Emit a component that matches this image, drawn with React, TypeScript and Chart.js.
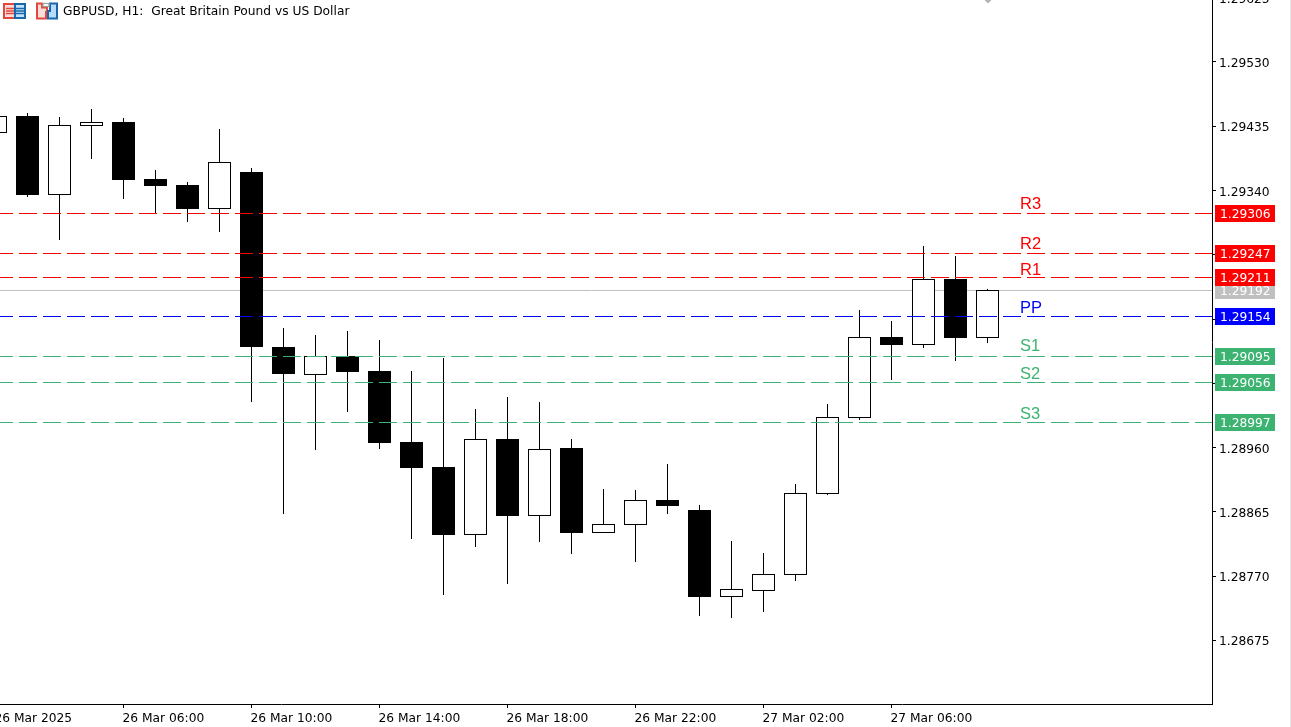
import { useEffect, useRef } from 'react'
import Chart from 'chart.js/auto'

const timeLabels = ['26 Mar 2025', '26 Mar 06:00', '26 Mar 10:00', '26 Mar 14:00', '26 Mar 18:00', '26 Mar 22:00', '27 Mar 02:00', '27 Mar 06:00']
const timeTicks = [0, 4, 8, 12, 16, 20, 24, 28]
const priceTicks = [1.29625, 1.2953, 1.29435, 1.2934, 1.29245, 1.2915, 1.29055, 1.2896, 1.28865, 1.2877, 1.28675]

const opens = [1.29425, 1.2945, 1.29333, 1.29435, 1.29441, 1.29357, 1.29348, 1.29313, 1.29367, 1.29109, 1.29067, 1.29095, 1.29073, 1.28968, 1.28931, 1.28831, 1.28973, 1.28859, 1.28959, 1.28834, 1.28845, 1.28882, 1.28868, 1.28739, 1.28748, 1.28772, 1.28891, 1.29004, 1.29123, 1.29112, 1.29209, 1.29122]
const highs = [1.2945, 1.29455, 1.29449, 1.2946, 1.29447, 1.2937, 1.29353, 1.29431, 1.29373, 1.29137, 1.29126, 1.29132, 1.29119, 1.29073, 1.29092, 1.29017, 1.29035, 1.29027, 1.28973, 1.28899, 1.28897, 1.28936, 1.28875, 1.28822, 1.28804, 1.28906, 1.29024, 1.29163, 1.29147, 1.29258, 1.29243, 1.29194]
const lows = [1.29425, 1.2933, 1.29267, 1.29387, 1.29327, 1.29307, 1.29293, 1.29279, 1.29027, 1.28862, 1.28956, 1.29013, 1.28958, 1.28825, 1.28742, 1.28813, 1.28758, 1.2882, 1.28803, 1.28834, 1.28791, 1.28862, 1.28711, 1.28708, 1.28717, 1.28763, 1.2889, 1.29001, 1.2906, 1.29107, 1.29088, 1.29115]
const closes = [1.2945, 1.29333, 1.29437, 1.29441, 1.29356, 1.29347, 1.29313, 1.29382, 1.29109, 1.29069, 1.29095, 1.29072, 1.28967, 1.2893, 1.28831, 1.28973, 1.28859, 1.28958, 1.28834, 1.28847, 1.28882, 1.28874, 1.28739, 1.28751, 1.28773, 1.28893, 1.29005, 1.29123, 1.29112, 1.29209, 1.29122, 1.29193]

const levelNames = ['R3', 'R2', 'R1', 'PP', 'S1', 'S2', 'S3']
const levelValues = [1.29306, 1.29247, 1.29211, 1.29154, 1.29095, 1.29056, 1.28997]
const levelColors = ['#ff0000', '#ff0000', '#ff0000', '#0000ff', '#3cb371', '#3cb371', '#3cb371']
const levelNameLift = [4, 4, 2, 3, 5, 3, 3]
const bidPrice = 1.29192

const xMin = -0.765625
const xMax = 38.015625
const uiFont = '"DejaVu Sans"'
const uiSize = 12.25

// snap the bars and level lines to whole pixels, the terminal has no antialiasing
const snapPlugin = {
  id: 'snap',
  beforeDatasetsDraw(chart: any) {
    chart.getSortedVisibleDatasetMetas().forEach((meta: any) => {
      meta.data.forEach((el: any) => {
        if (meta.type === 'bar') {
          el.y = Math.round(el.y)
          el.base = Math.round(el.base)
        } else {
          el.y = Math.floor(el.y) + 0.5
        }
      })
    })
  }
}

const levelTagsPlugin = {
  id: 'levelTags',
  afterDraw(chart: any) {
    const { ctx, scales } = chart
    const drawTag = (value: number, color: string) => {
      const y = Math.floor(scales.y.getPixelForValue(value))
      ctx.fillStyle = color
      ctx.fillRect(1244, y - 8, 60, 17)
      ctx.fillStyle = '#ffffff'
      ctx.font = `${uiSize}px ${uiFont}`
      ctx.textAlign = 'left'
      ctx.textBaseline = 'middle'
      ctx.fillText(value.toFixed(5), 1249, y + 2)
    }
    drawTag(bidPrice, '#c0c0c0')
    levelValues.forEach((value, i) => {
      drawTag(value, levelColors[i])
      ctx.fillStyle = levelColors[i]
      ctx.font = '16.5px "Liberation Sans"'
      ctx.textBaseline = 'alphabetic'
      ctx.fillText(levelNames[i], 1049, Math.floor(scales.y.getPixelForValue(value)) - levelNameLift[i])
    })
  }
}

export default function App() {
  const canvasRef = useRef<HTMLCanvasElement>(null)

  useEffect(() => {
    if (!canvasRef.current) return
    const lineAcross = (value: number) => [{ x: xMin, y: value }, { x: xMax, y: value }]
    const chart = new Chart(canvasRef.current, {
      type: 'bar',
      data: {
        datasets: [
          {
            type: 'line',
            data: lineAcross(bidPrice),
            borderColor: '#c0c0c0',
            borderWidth: 1,
            pointRadius: 0,
            order: 4
          },
          {
            data: opens.map((_, i) => ({ x: i, y: [lows[i], highs[i]] })),
            backgroundColor: '#000000',
            barThickness: 1,
            borderWidth: 0,
            inflateAmount: 0,
            grouped: false,
            order: 3
          },
          {
            data: opens.map((open, i) => ({ x: i, y: [open, closes[i]] })),
            backgroundColor: opens.map((open, i) => (closes[i] >= open ? '#ffffff' : '#000000')),
            borderColor: '#000000',
            borderWidth: 1,
            borderSkipped: false,
            barThickness: 23,
            inflateAmount: 0,
            grouped: false,
            order: 2
          },
          ...levelValues.map((value, i) => ({
            type: 'line',
            data: lineAcross(value),
            borderColor: levelColors[i],
            borderWidth: 1,
            borderDash: [18, 6],
            pointRadius: 0,
            order: 1
          }))
        ] as any
      },
      options: {
        responsive: false,
        devicePixelRatio: 1,
        animation: false,
        events: [],
        layout: { padding: 0 },
        scales: {
          x: {
            type: 'linear',
            min: xMin,
            max: xMax,
            offset: false,
            afterBuildTicks: (scale: any) => {
              scale.ticks = timeTicks.map((value) => ({ value }))
            },
            afterFit: (scale: any) => {
              scale.height = 23
              scale.paddingLeft = 0
              scale.paddingRight = 0
            },
            grid: { offset: false, drawOnChartArea: false, color: '#000000', tickLength: 4 },
            border: { color: '#000000' },
            ticks: {
              color: '#000000',
              font: { family: uiFont, size: uiSize },
              align: 'start',
              padding: 3,
              labelOffset: -1,
              autoSkip: false,
              maxRotation: 0,
              minRotation: 0,
              callback: (_v: any, i: number) => timeLabels[i]
            }
          },
          y: {
            position: 'right',
            min: 1.285808,
            max: 1.296512,
            afterBuildTicks: (scale: any) => {
              scale.ticks = priceTicks.map((value) => ({ value }))
            },
            afterFit: (scale: any) => {
              scale.width = 79
              scale.paddingTop = 0
              scale.paddingBottom = 0
            },
            grid: { drawOnChartArea: false, color: '#000000', tickLength: 4 },
            border: { color: '#000000' },
            ticks: {
              color: '#000000',
              font: { family: uiFont, size: uiSize },
              padding: 3,
              labelOffset: 2,
              autoSkip: false,
              callback: (v: any) => Number(v).toFixed(5)
            }
          }
        },
        plugins: {
          legend: { display: false },
          tooltip: { enabled: false }
        }
      },
      plugins: [snapPlugin, levelTagsPlugin]
    } as any)

    return () => chart.destroy()
  }, [])

  return (
    <div style={{ position: 'fixed', left: 0, top: 0, width: 1291, height: 727, overflow: 'hidden', background: '#ffffff' }}>
      <canvas ref={canvasRef} width={1320} height={747} style={{ position: 'absolute', left: -29, top: -20 }} />
      <svg width={70} height={24} style={{ position: 'absolute', left: 0, top: 0 }}>
        <rect x={4} y={4} width={11} height={14} fill="#fbdcd8" stroke="#e0483e" strokeWidth={2} />
        <rect x={15} y={4} width={10} height={14} fill="#c4e2f8" stroke="#1768ab" strokeWidth={2} />
        <path d="M6 8.500h8M6 11h8M6 13.500h8" stroke="#e0483e" strokeWidth={1.3} />
        <path d="M16 8.500h8M16 11h8M16 13.500h8" stroke="#1768ab" strokeWidth={1.3} />
        <path d="M37 3.500h5v4h5v3.500l-1 1v6.500h-9z" fill="#fbdcd8" stroke="#e0483e" strokeWidth={2} />
        <path d="M48 11h2V3.500h7v15h-9z" fill="#b8dcf8" stroke="#1768ab" strokeWidth={2} />
        <rect x={43} y={3.500} width={6} height={3} fill="#ffffff" stroke="#a0a0a0" strokeWidth={1.2} />
      </svg>
      <svg width={8} height={4} style={{ position: 'absolute', left: 984, top: 0 }}>
        <path d="M0.500 0h7L4 3.500z" fill="#b4b4b4" />
      </svg>
      <div style={{ position: 'absolute', left: 1290, top: 0, width: 1, height: 727, background: '#e4e4e4' }} />
      <div style={{ position: 'absolute', left: 63, top: 4, font: `${uiSize}px ${uiFont}`, color: '#000000', whiteSpace: 'pre' }}>
        GBPUSD, H1:  Great Britain Pound vs US Dollar
      </div>
    </div>
  )
}
